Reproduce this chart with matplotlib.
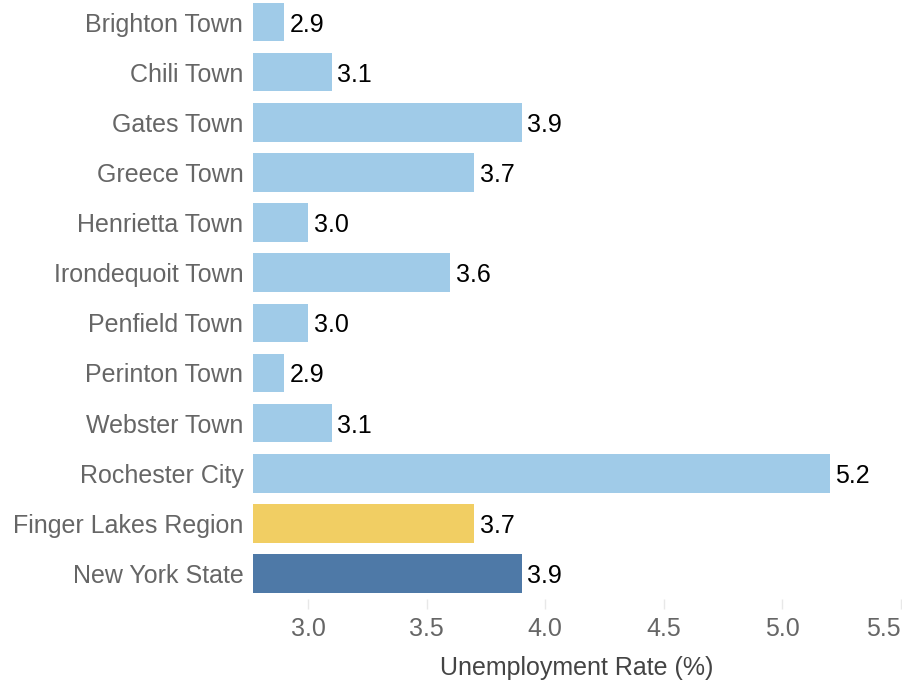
import matplotlib.pyplot as plt

plt.rcParams["font.family"] = ["Liberation Sans", "DejaVu Sans"]

places = [
    "Brighton Town", "Chili Town", "Gates Town", "Greece Town",
    "Henrietta Town", "Irondequoit Town", "Penfield Town", "Perinton Town",
    "Webster Town", "Rochester City", "Finger Lakes Region", "New York State",
]
rates = [2.9, 3.1, 3.9, 3.7, 3.0, 3.6, 3.0, 2.9, 3.1, 5.2, 3.7, 3.9]
colors = ["#A0CBE8"] * 10 + ["#F1CE63", "#4E79A7"]
xticks = [3.0, 3.5, 4.0, 4.5, 5.0, 5.5]

fig = plt.figure(figsize=(9.03, 6.86), dpi=100)
ax = fig.add_axes([0.2802, 0.1274, 0.9978 - 0.2802, 1.0044 - 0.1274])

ypos = list(range(len(places)))
ax.barh(ypos, rates, height=0.77, color=colors, zorder=2)

for y, v in zip(ypos, rates):
    ax.annotate(f"{v:.1f}", (v, y), xytext=(4, 0), textcoords="offset points",
                ha="left", va="center_baseline", fontsize=18, color="black")

ax.set_xlim(2.768, 5.5)
ax.set_ylim(len(places) - 0.5, -0.5)
ax.set_yticks(ypos)
ax.set_yticklabels(places)
ax.set_xticks(xticks)
ax.set_xticklabels([f"{t:.1f}" for t in xticks])
ax.get_xticklabels()[-1].set_ha("right")

for s in ax.spines.values():
    s.set_visible(False)

ax.tick_params(axis="y", length=0, pad=7, labelsize=18, labelcolor="#666666")
ax.tick_params(axis="x", length=7, width=1, color="#e8e8e8", pad=6,
               labelsize=18, labelcolor="#666666")
ax.set_xlabel("Unemployment Rate (%)", fontsize=18, color="#444444", labelpad=11)

fig.savefig("out.png", dpi=100)
